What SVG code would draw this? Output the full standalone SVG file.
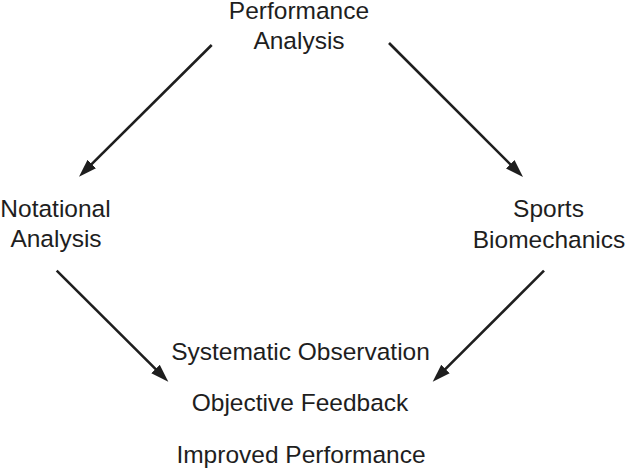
<svg xmlns="http://www.w3.org/2000/svg" width="626" height="469" viewBox="0 0 626 469">
<style>
text{font-family:"Liberation Sans",Arial,Helvetica,sans-serif;font-size:24.5px;fill:#1e1e1e;text-anchor:middle}
.c{stroke:#1e1e1e;stroke-width:2.6;fill:none}
</style>
<defs>
<marker id="ah" markerUnits="userSpaceOnUse" markerWidth="20" markerHeight="14" refX="8" refY="6" orient="auto" viewBox="0 0 20 12">
<path d="M0,0 L18,6 L0,12 z" fill="#1e1e1e"/>
</marker>
</defs>
<rect width="626" height="469" fill="#fff"/>
<g id="connectors">
<line class="c" x1="211.7" y1="45" x2="86.1" y2="169.7" marker-end="url(#ah)"/>
<line class="c" x1="389" y1="43" x2="515.9" y2="169.9" marker-end="url(#ah)"/>
<line class="c" x1="56.7" y1="270.7" x2="161.2" y2="374.6" marker-end="url(#ah)"/>
<line class="c" x1="544" y1="270.7" x2="439.8" y2="374.6" marker-end="url(#ah)"/>
</g>
<g id="performance-analysis"><text x="299" y="18.5">Performance</text><text x="299" y="48.5">Analysis</text></g>
<g id="notational-analysis"><text x="55.5" y="216.5">Notational</text><text x="56" y="247">Analysis</text></g>
<g id="sports-biomechanics"><text x="548.5" y="217">Sports</text><text x="549" y="248">Biomechanics</text></g>
<g id="systematic-observation"><text x="300.5" y="359.5">Systematic Observation</text></g>
<g id="objective-feedback"><text x="300" y="411">Objective Feedback</text></g>
<g id="improved-performance"><text x="301" y="462.5">Improved Performance</text></g>
</svg>
